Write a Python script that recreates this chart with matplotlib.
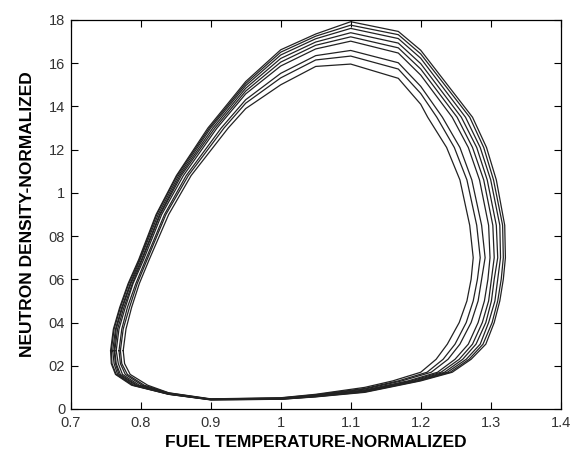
import numpy as np
import matplotlib
matplotlib.use("Agg")
import matplotlib.pyplot as plt

plt.rcParams['font.family'] = ['Liberation Sans', 'DejaVu Sans']

# Each row is one point, each column one loop of the orbit
# (column 0 = innermost loop, column 8 = outermost / limit cycle)
loop_x = np.array([
    [0.775, 0.771, 0.769, 0.765, 0.763, 0.762, 0.760, 0.758, 0.757],
    [0.779, 0.775, 0.773, 0.769, 0.767, 0.765, 0.764, 0.762, 0.761],
    [0.787, 0.784, 0.781, 0.778, 0.776, 0.774, 0.773, 0.771, 0.770],
    [0.798, 0.795, 0.793, 0.789, 0.788, 0.786, 0.785, 0.783, 0.782],
    [0.812, 0.809, 0.807, 0.804, 0.802, 0.801, 0.799, 0.798, 0.797],
    [0.840, 0.836, 0.834, 0.830, 0.828, 0.827, 0.825, 0.823, 0.822],
    [0.872, 0.868, 0.865, 0.861, 0.858, 0.856, 0.854, 0.852, 0.851],
    [0.925, 0.919, 0.915, 0.909, 0.906, 0.903, 0.900, 0.898, 0.896],
    [0.950, 0.950, 0.950, 0.950, 0.950, 0.950, 0.950, 0.950, 0.950],
    [1.000, 1.000, 1.000, 1.000, 1.000, 1.000, 1.000, 1.000, 1.000],
    [1.050, 1.050, 1.050, 1.050, 1.050, 1.050, 1.050, 1.050, 1.050],
    [1.100, 1.100, 1.100, 1.100, 1.100, 1.100, 1.100, 1.100, 1.100],
    [1.168, 1.168, 1.168, 1.168, 1.168, 1.168, 1.168, 1.168, 1.168],
    [1.200, 1.200, 1.200, 1.200, 1.200, 1.200, 1.200, 1.200, 1.200],
    [1.210, 1.223, 1.231, 1.245, 1.252, 1.258, 1.264, 1.270, 1.274],
    [1.237, 1.248, 1.256, 1.268, 1.274, 1.280, 1.285, 1.290, 1.294],
    [1.256, 1.266, 1.273, 1.284, 1.290, 1.295, 1.300, 1.304, 1.308],
    [1.270, 1.280, 1.287, 1.297, 1.303, 1.308, 1.313, 1.317, 1.320],
    [1.275, 1.285, 1.292, 1.299, 1.305, 1.310, 1.314, 1.318, 1.321],
    [1.272, 1.281, 1.287, 1.296, 1.301, 1.305, 1.310, 1.315, 1.318],
    [1.266, 1.275, 1.282, 1.291, 1.297, 1.301, 1.306, 1.310, 1.313],
    [1.255, 1.265, 1.272, 1.282, 1.288, 1.293, 1.297, 1.302, 1.305],
    [1.238, 1.249, 1.256, 1.268, 1.274, 1.279, 1.285, 1.289, 1.293],
    [1.222, 1.232, 1.239, 1.249, 1.255, 1.260, 1.265, 1.269, 1.272],
    [1.200, 1.209, 1.215, 1.224, 1.229, 1.234, 1.238, 1.242, 1.245],
    [1.160, 1.168, 1.173, 1.182, 1.186, 1.190, 1.194, 1.197, 1.200],
    [1.120, 1.120, 1.120, 1.120, 1.120, 1.120, 1.120, 1.120, 1.120],
    [1.050, 1.050, 1.050, 1.050, 1.050, 1.050, 1.050, 1.050, 1.050],
    [1.000, 1.000, 1.000, 1.000, 1.000, 1.000, 1.000, 1.000, 1.000],
    [0.900, 0.900, 0.900, 0.900, 0.900, 0.900, 0.900, 0.900, 0.900],
    [0.840, 0.840, 0.840, 0.840, 0.840, 0.840, 0.840, 0.840, 0.840],
    [0.810, 0.805, 0.802, 0.798, 0.795, 0.793, 0.790, 0.789, 0.787],
    [0.785, 0.781, 0.778, 0.774, 0.771, 0.769, 0.767, 0.765, 0.764],
    [0.777, 0.773, 0.771, 0.768, 0.765, 0.764, 0.762, 0.759, 0.758],
])
loop_y = np.array([
    [0.27, 0.27, 0.27, 0.27, 0.27, 0.27, 0.27, 0.27, 0.27],
    [0.37, 0.37, 0.37, 0.37, 0.37, 0.37, 0.37, 0.37, 0.37],
    [0.47, 0.47, 0.47, 0.47, 0.47, 0.47, 0.47, 0.47, 0.47],
    [0.58, 0.58, 0.58, 0.58, 0.58, 0.58, 0.58, 0.58, 0.58],
    [0.69, 0.69, 0.69, 0.69, 0.69, 0.69, 0.69, 0.69, 0.69],
    [0.90, 0.90, 0.90, 0.90, 0.90, 0.90, 0.90, 0.90, 0.90],
    [1.08, 1.08, 1.08, 1.08, 1.08, 1.08, 1.08, 1.08, 1.08],
    [1.30, 1.30, 1.30, 1.30, 1.30, 1.30, 1.30, 1.30, 1.30],
    [1.390, 1.415, 1.431, 1.458, 1.471, 1.484, 1.496, 1.506, 1.515],
    [1.500, 1.532, 1.553, 1.587, 1.605, 1.622, 1.638, 1.651, 1.662],
    [1.585, 1.615, 1.635, 1.666, 1.683, 1.698, 1.713, 1.725, 1.735],
    [1.596, 1.633, 1.659, 1.702, 1.722, 1.741, 1.761, 1.776, 1.792],
    [1.530, 1.573, 1.602, 1.647, 1.671, 1.693, 1.714, 1.732, 1.747],
    [1.410, 1.460, 1.493, 1.545, 1.573, 1.598, 1.623, 1.643, 1.660],
    [1.35, 1.35, 1.35, 1.35, 1.35, 1.35, 1.35, 1.35, 1.35],
    [1.21, 1.21, 1.21, 1.21, 1.21, 1.21, 1.21, 1.21, 1.21],
    [1.06, 1.06, 1.06, 1.06, 1.06, 1.06, 1.06, 1.06, 1.06],
    [0.85, 0.85, 0.85, 0.85, 0.85, 0.85, 0.85, 0.85, 0.85],
    [0.70, 0.70, 0.70, 0.70, 0.70, 0.70, 0.70, 0.70, 0.70],
    [0.60, 0.60, 0.60, 0.60, 0.60, 0.60, 0.60, 0.60, 0.60],
    [0.50, 0.50, 0.50, 0.50, 0.50, 0.50, 0.50, 0.50, 0.50],
    [0.40, 0.40, 0.40, 0.40, 0.40, 0.40, 0.40, 0.40, 0.40],
    [0.30, 0.30, 0.30, 0.30, 0.30, 0.30, 0.30, 0.30, 0.30],
    [0.23, 0.23, 0.23, 0.23, 0.23, 0.23, 0.23, 0.23, 0.23],
    [0.17, 0.17, 0.17, 0.17, 0.17, 0.17, 0.17, 0.17, 0.17],
    [0.13, 0.13, 0.13, 0.13, 0.13, 0.13, 0.13, 0.13, 0.13],
    [0.100, 0.095, 0.092, 0.088, 0.085, 0.083, 0.081, 0.079, 0.077],
    [0.068, 0.066, 0.064, 0.062, 0.060, 0.059, 0.058, 0.057, 0.056],
    [0.052, 0.051, 0.050, 0.048, 0.047, 0.047, 0.046, 0.045, 0.045],
    [0.047, 0.046, 0.045, 0.045, 0.044, 0.044, 0.043, 0.043, 0.042],
    [0.075, 0.074, 0.073, 0.071, 0.070, 0.070, 0.069, 0.068, 0.068],
    [0.11, 0.11, 0.11, 0.11, 0.11, 0.11, 0.11, 0.11, 0.11],
    [0.16, 0.16, 0.16, 0.16, 0.16, 0.16, 0.16, 0.16, 0.16],
    [0.21, 0.21, 0.21, 0.21, 0.21, 0.21, 0.21, 0.21, 0.21],
])

x_ticks = [0.7, 0.8, 0.9, 1.0, 1.1, 1.2, 1.3, 1.4]
x_labels = ['0.7', '0.8', '0.9', '1', '1.1', '1.2', '1.3', '1.4']
y_ticks = [0, 0.2, 0.4, 0.6, 0.8, 1.0, 1.2, 1.4, 1.6, 1.8]
y_labels = ['0', '02', '04', '06', '08', '1', '12', '14', '16', '18']

fig = plt.figure(figsize=(5.71, 4.55), dpi=100)
ax = fig.add_axes([0.1238, 0.1011, 0.8582, 0.855])

for i in range(loop_x.shape[1]):
    xs = np.append(loop_x[:, i], loop_x[0, i])
    ys = np.append(loop_y[:, i], loop_y[0, i])
    ax.plot(xs, ys, color='#222222', lw=0.9)

ax.set_xlim(0.7, 1.4)
ax.set_ylim(0, 1.8)
ax.set_xticks(x_ticks)
ax.set_xticklabels(x_labels)
ax.set_yticks(y_ticks)
ax.set_yticklabels(y_labels)
ax.tick_params(direction='in', top=True, right=True, length=5, width=0.8,
               labelsize=10.5, labelcolor='#333333')
ax.tick_params(axis='x', pad=5)
ax.tick_params(axis='y', pad=4)
for s in ax.spines.values():
    s.set_linewidth(0.9)

ax.set_xlabel('FUEL TEMPERATURE-NORMALIZED', fontsize=12.5, fontweight='bold', labelpad=4)
ax.set_ylabel('NEUTRON DENSITY-NORMALIZED', fontsize=12.5, fontweight='bold', labelpad=10)

fig.savefig('out.png', dpi=100)
